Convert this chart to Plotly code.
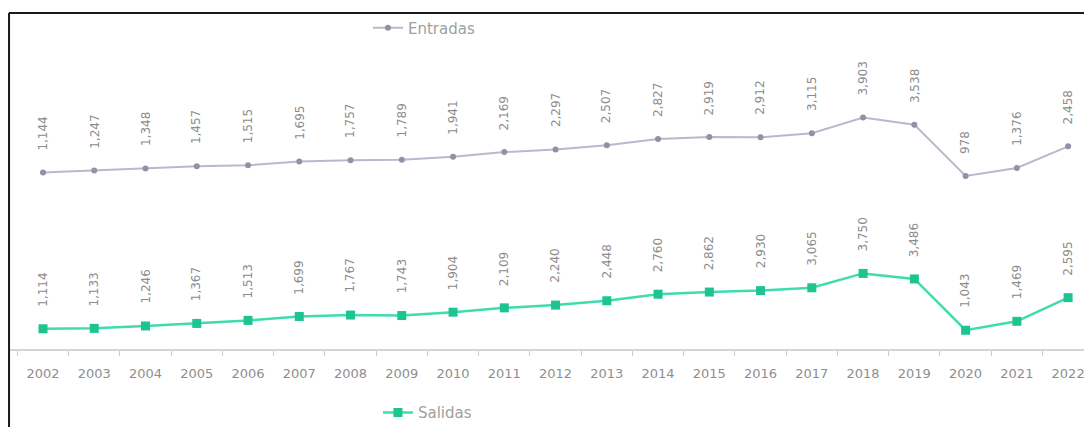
import plotly.graph_objects as go
from plotly.subplots import make_subplots

years = [str(y) for y in range(2002, 2023)]
entradas = [1144, 1247, 1348, 1457, 1515, 1695, 1757, 1789, 1941, 2169, 2297,
            2507, 2827, 2919, 2912, 3115, 3903, 3538, 978, 1376, 2458]
salidas = [1114, 1133, 1246, 1367, 1513, 1699, 1767, 1743, 1904, 2109, 2240,
           2448, 2760, 2862, 2930, 3065, 3750, 3486, 1043, 1469, 2595]

FONT = "DejaVu Sans"
ENT_LINE = "#b9b9cc"
ENT_MARK = "#9191a8"
SAL_LINE = "#3fdcb0"
SAL_MARK = "#1ec490"
LABEL_COL = "#8c8c8c"

fig = make_subplots(rows=2, cols=1, shared_xaxes=True, vertical_spacing=0.05)

fig.add_trace(go.Scatter(
    x=years, y=entradas, name="Entradas", mode="lines+markers",
    line=dict(color=ENT_LINE, width=2),
    marker=dict(color=ENT_MARK, size=6, symbol="circle"),
    legend="legend", cliponaxis=False), row=1, col=1)

fig.add_trace(go.Scatter(
    x=years, y=salidas, name="Salidas", mode="lines+markers",
    line=dict(color=SAL_LINE, width=2.5),
    marker=dict(color=SAL_MARK, size=9, symbol="square"),
    legend="legend2", cliponaxis=False), row=2, col=1)

for i, v in enumerate(entradas):
    fig.add_annotation(
        x=i, y=v, xref="x", yref="y", text=f"{v:,}", showarrow=False,
        textangle=-90, yanchor="bottom", xanchor="center", yshift=20,
        font=dict(family=FONT, size=12, color=LABEL_COL))
for i, v in enumerate(salidas):
    fig.add_annotation(
        x=i, y=v, xref="x2", yref="y2", text=f"{v:,}", showarrow=False,
        textangle=-90, yanchor="bottom", xanchor="center", yshift=20,
        font=dict(family=FONT, size=12, color=LABEL_COL))

# border frame (cropped at right/bottom)
fig.add_shape(type="line", xref="paper", yref="paper", x0=-0.001, x1=1.01,
              y0=0.9628, y1=0.9628, line=dict(color="#1a1a1a", width=2))
fig.add_shape(type="line", xref="paper", yref="paper", x0=-0.0009, x1=-0.0009,
              y0=0.9628, y1=-0.25, line=dict(color="#1a1a1a", width=2))

fig.update_layout(
    width=1084, height=427,
    margin=dict(l=10, r=0, t=0, b=78, autoexpand=False),
    paper_bgcolor="white", plot_bgcolor="white",
    font=dict(family=FONT, color="#8a8a8a"),
    showlegend=True,
    legend=dict(x=0.3333, y=0.92, xanchor="left", yanchor="middle",
                orientation="h", font=dict(family=FONT, size=15, color="#a0a0a0"),
                bgcolor="rgba(0,0,0,0)"),
    legend2=dict(x=0.3426, y=-0.183, xanchor="left", yanchor="middle",
                 orientation="h", font=dict(family=FONT, size=15, color="#a0a0a0"),
                 bgcolor="rgba(0,0,0,0)"),
)

fig.update_xaxes(type="category", range=[-0.644, 20.31], showgrid=False,
                 zeroline=False)
fig.update_xaxes(row=1, col=1, showline=False, showticklabels=False, ticks="")
fig.update_xaxes(row=2, col=1, showline=True, linecolor="#d4d4d4", linewidth=1.5,
                 ticks="outside", tickson="boundaries", ticklen=5,
                 tickcolor="#cccccc", tickwidth=1,
                 tickfont=dict(family=FONT, size=13, color="#8e8e8e"),
                 ticklabelstandoff=12)

fig.update_yaxes(showgrid=False, zeroline=False, showline=False,
                 showticklabels=False, ticks="")
fig.update_layout(
    yaxis=dict(domain=[0.4456, 0.8467], range=[100, 7100]),
    yaxis2=dict(domain=[0.0, 0.361], range=[150, 6150]),
)

fig.write_html("out.html",
               config={"displayModeBar": False},
               post_script="document.body.style.margin='0';")
